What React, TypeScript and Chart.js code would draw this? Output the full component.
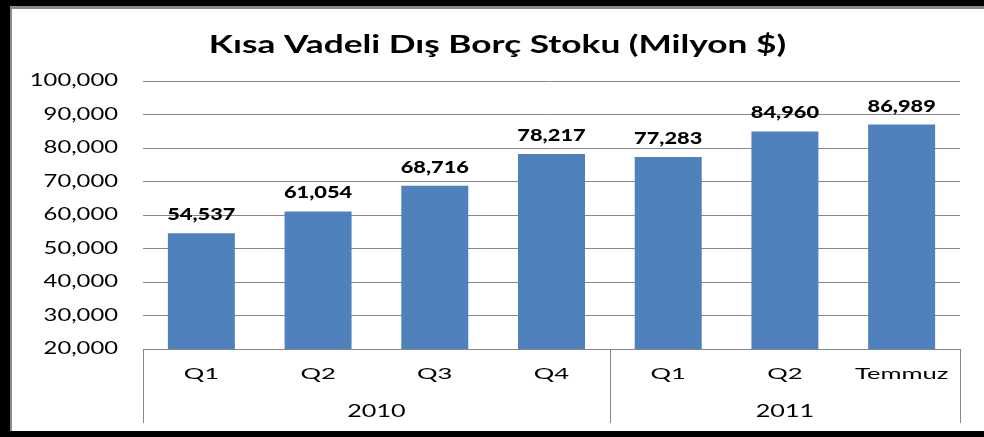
import React, { useEffect, useRef } from "react";
import { Chart, registerables } from "chart.js";

Chart.register(...registerables);

const title = "Kısa Vadeli Dış Borç Stoku (Milyon $)";
const periods = ["Q1", "Q2", "Q3", "Q4", "Q1", "Q2", "Temmuz"];
const years = ["2010", "2011"];
const yearSpans = [4, 3];
const debtStock = [54537, 61054, 68716, 78217, 77283, 84960, 86989];
const yMin = 20000;
const yMax = 100000;
const yStep = 10000;

const FONT = "Lato, 'Open Sans', sans-serif";
const GRID = "#878787";
const BAR = "#4F81BD";

const fmt = (v: number) => v.toLocaleString("en-US");

// The reference text is horizontally stretched; draw it with a horizontal scale.
function drawText(
  ctx: CanvasRenderingContext2D,
  text: string,
  x: number,
  y: number,
  font: string,
  sx: number,
  align: CanvasTextAlign,
  baseline: CanvasTextBaseline
) {
  ctx.save();
  ctx.font = font;
  ctx.fillStyle = "#000";
  ctx.textAlign = align;
  ctx.textBaseline = baseline;
  ctx.translate(x, y);
  ctx.scale(sx, 1);
  ctx.fillText(text, 0, 0);
  ctx.restore();
}

const textLayer = {
  id: "textLayer",
  afterDraw(chart: any) {
    const ctx = chart.ctx;
    const xs = chart.scales.x;
    const ys = chart.scales.y;
    const area = chart.chartArea;

    // title
    drawText(ctx, title, (chart.width + 11) / 2, 45, `bold 25px ${FONT}`, 1.41, "center", "middle");

    // y tick labels
    ys.ticks.forEach((t: any) => {
      drawText(ctx, fmt(t.value), area.left - 25, ys.getPixelForValue(t.value), `17px ${FONT}`, 1.4, "right", "middle");
    });

    // x tick labels
    periods.forEach((p, i) => {
      drawText(ctx, p, xs.getPixelForValue(i), 374, `16px ${FONT}`, 1.6, "center", "middle");
    });

    // group separators and year labels
    const bottom = 423;
    const boundaries: number[] = [area.left];
    const centers: number[] = [];
    let idx = 0;
    yearSpans.forEach((span) => {
      const start = boundaries[boundaries.length - 1];
      idx += span;
      const end = idx >= periods.length ? area.right : (xs.getPixelForValue(idx - 1) + xs.getPixelForValue(idx)) / 2;
      boundaries.push(end);
      centers.push((start + end) / 2);
    });
    ctx.save();
    ctx.strokeStyle = GRID;
    ctx.lineWidth = 1;
    boundaries.forEach((bx) => {
      const px = Math.round(bx) + 0.5;
      ctx.beginPath();
      ctx.moveTo(px, area.bottom);
      ctx.lineTo(px, bottom);
      ctx.stroke();
    });
    ctx.restore();
    years.forEach((y, i) => drawText(ctx, y, centers[i], 412, `17px ${FONT}`, 1.48, "center", "middle"));

    // value labels
    const meta = chart.getDatasetMeta(0);
    meta.data.forEach((bar: any, i: number) => {
      drawText(ctx, fmt(debtStock[i]), bar.x, bar.y - 13, `900 17px ${FONT}`, 1.28, "center", "alphabetic");
    });
  },
};

export default function App() {
  const ref = useRef<HTMLCanvasElement>(null);
  useEffect(() => {
    if (!ref.current) return;
    const chart = new Chart(ref.current, {
      type: "bar",
      data: {
        labels: periods,
        datasets: [
          {
            data: debtStock,
            backgroundColor: BAR,
            borderWidth: 0,
            barPercentage: 0.574,
            categoryPercentage: 1,
          },
        ],
      },
      options: {
        responsive: false,
        animation: false,
        layout: { padding: { left: 35, right: 24, top: 81, bottom: 0 } },
        plugins: {
          legend: { display: false },
          tooltip: { enabled: false },
          title: { display: false, text: title },
        },
        scales: {
          x: {
            grid: { display: false, drawTicks: false },
            border: { display: false },
            ticks: { display: false, autoSkip: false },
            afterFit: (s: any) => {
              s.height = 88;
            },
          },
          y: {
            min: yMin,
            max: yMax,
            grid: { color: GRID, lineWidth: 1, drawTicks: false },
            border: { display: false },
            ticks: { display: false, stepSize: yStep },
            afterFit: (s: any) => {
              s.width = 108;
            },
          },
        },
      },
      plugins: [textLayer],
    });
    return () => chart.destroy();
  }, []);

  return (
    <div style={{ position: "absolute", left: 0, top: 0, width: 984, height: 437, background: "#fff" }}>
      <canvas ref={ref} width={984} height={437} style={{ position: "absolute", left: 0, top: 0, width: 984, height: 437 }} />
      <div style={{ position: "absolute", left: 0, top: 0, width: 984, height: 6, background: "#000" }} />
      <div style={{ position: "absolute", left: 0, top: 0, width: 10, height: 437, background: "#000" }} />
      <div style={{ position: "absolute", left: 0, top: 431, width: 984, height: 6, background: "#000" }} />
      <div style={{ position: "absolute", left: 10, top: 6, width: 974, height: 3, background: "#8a8a8a" }} />
      <div style={{ position: "absolute", left: 10, top: 6, width: 2, height: 425, background: "#8a8a8a" }} />
    </div>
  );
}
